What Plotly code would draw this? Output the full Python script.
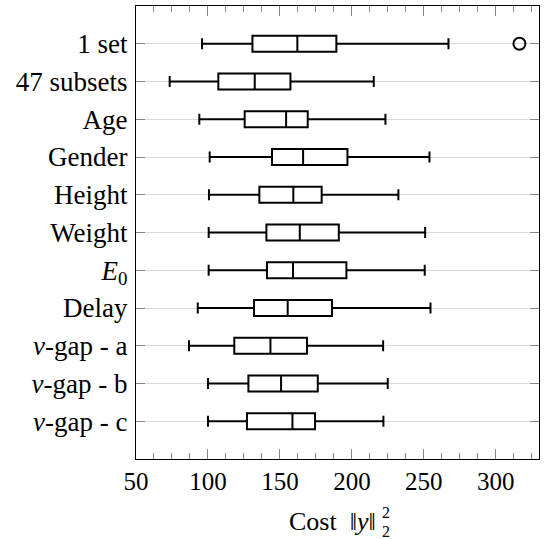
import plotly.graph_objects as go

# datos (costo ||y||_2^2)
categorias = ["1 set", "47 subsets", "Age", "Gender", "Height", "Weight",
              "<i>E</i><sub>0</sub>", "Delay", "<i>ν</i>-gap - a", "<i>ν</i>-gap - b", "<i>ν</i>-gap - c"]
bigote_inf = [95.9, 73.4, 94.0, 101.2, 100.7, 100.5, 100.5, 92.9, 86.8, 100.0, 100.0]
q1 = [130.9, 107.2, 125.5, 144.5, 135.7, 140.6, 141.0, 132.0, 118.3, 128.1, 127.1]
mediana = [162.1, 132.5, 154.3, 166.1, 159.3, 163.8, 159.1, 155.4, 143.4, 150.8, 158.7]
q3 = [189.2, 157.3, 169.3, 196.9, 179.0, 190.9, 196.2, 186.2, 168.8, 176.3, 174.4]
bigote_sup = [267.1, 215.2, 223.3, 253.9, 232.3, 250.9, 250.6, 254.6, 221.7, 224.9, 221.9]
atipicos_x = [316.4]
atipicos_y = ["1 set"]

fuente = "Liberation Serif"

fig = go.Figure()

fig.add_trace(go.Box(
    y=categorias,
    q1=q1, median=mediana, q3=q3,
    lowerfence=bigote_inf, upperfence=bigote_sup,
    orientation="h",
    width=0.42,
    whiskerwidth=0.7,
    fillcolor="white",
    line=dict(color="black", width=2),
    boxpoints=False,
    showlegend=False,
))

fig.add_trace(go.Scatter(
    x=atipicos_x, y=atipicos_y, mode="markers",
    marker=dict(symbol="circle-open", size=12, color="black", line=dict(width=2)),
    showlegend=False,
))

fig.update_layout(
    width=544, height=539,
    margin=dict(l=136, r=5, t=6, b=80),
    plot_bgcolor="white", paper_bgcolor="white",
    font=dict(family=fuente, size=24, color="black"),
)

fig.update_xaxes(
    range=[50, 330], automargin=False,
    tickvals=[50, 100, 150, 200, 250, 300],
    ticks="inside", ticklen=10, tickcolor="#888888", tickwidth=1,
    minor=dict(dtick=12.5, tick0=50, ticks="inside", ticklen=6, tickcolor="#888888", showgrid=False),
    showgrid=False, zeroline=False,
    showline=True, linecolor="black", linewidth=1.3, mirror="allticks",
    tickfont=dict(family=fuente, size=25),
)

fig.update_yaxes(
    type="category", automargin=False,
    categoryorder="array", categoryarray=categorias,
    range=[11, -1],
    ticks="inside", ticklen=9, tickcolor="#888888",
    showgrid=True, gridcolor="#d9d9d9", gridwidth=1,
    showline=True, linecolor="black", linewidth=1.3, mirror="allticks",
    tickfont=dict(family=fuente, size=27),
    ticklabelstandoff=2,
)

# titulo del eje x con sub y superindice apilados
fig.add_annotation(text="Cost&nbsp;&nbsp;‖<i>y</i>‖", xref="paper", yref="paper",
                   x=0.60, y=-0.139, xanchor="right", yanchor="middle",
                   showarrow=False, font=dict(family=fuente, size=26))
fig.add_annotation(text="2", xref="paper", yref="paper",
                   x=0.606, y=-0.117, xanchor="left", yanchor="middle",
                   showarrow=False, font=dict(family=fuente, size=16))
fig.add_annotation(text="2", xref="paper", yref="paper",
                   x=0.606, y=-0.160, xanchor="left", yanchor="middle",
                   showarrow=False, font=dict(family=fuente, size=16))

# sin el margen por defecto del body
fig.write_html("out.html", config={"displayModeBar": False},
               post_script="document.body.style.margin='0';")
